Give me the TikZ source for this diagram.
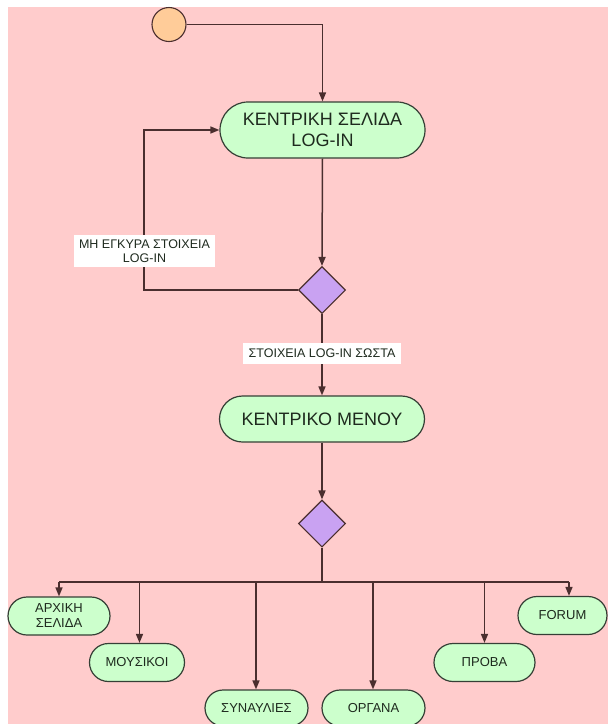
\documentclass[tikz,border=0pt]{standalone}
\usepackage{fontspec}
\setmainfont{Liberation Sans}
\usetikzlibrary{shapes.geometric,arrows.meta}

\definecolor{bgpink}{HTML}{FFCCCC}
\definecolor{actfill}{HTML}{CCFFCC}
\definecolor{decfill}{HTML}{C9A2F2}
\definecolor{startfill}{HTML}{FFCC99}
\definecolor{edge}{HTML}{4A2E2E}
\definecolor{ink}{HTML}{1E2A1E}

\tikzset{
  activity/.style={draw=ink!90, line width=1.2pt, fill=actfill, text=ink,
    inner sep=0pt, align=center},
  bigact/.style={activity, minimum width=205pt, font=\fontsize{18}{21}\selectfont},
  smallact/.style={activity, minimum width=100pt, minimum height=38pt,
    rounded corners=19pt, font=\fontsize{13}{15}\selectfont},
  decision/.style={diamond, draw=edge, line width=1.1pt, fill=decfill,
    inner sep=0pt, minimum width=47pt, minimum height=47pt},
  flow/.style={draw=edge, line width=1.5pt, -{Triangle[length=9pt,width=7pt]}},
  busline/.style={draw=edge, line width=2.2pt},
  guard/.style={fill=white, inner sep=2pt, text=ink, align=center,
    font=\fontsize{12.5}{14}\selectfont}
}

\begin{document}
\begin{tikzpicture}[x=1pt,y=-1pt]
  % page and coloured canvas
  \useasboundingbox (0,0) rectangle (608,724);
  \fill[white] (0,0) rectangle (608,724);
  \fill[bgpink] (8,7) rectangle (608,724);

  % initial state
  \node[circle, draw=edge, line width=1.1pt, fill=startfill, minimum size=34pt,
        inner sep=0pt] (start) at (169,24.5) {};

  % log-in page and first decision
  \node[bigact, minimum height=56pt, rounded corners=28pt] (login) at (322.5,130)
       {ΚΕΝΤΡΙΚΗ ΣΕΛΙΔΑ\\LOG-IN};
  \node[decision] (d1) at (322,290) {};
  \coordinate (back) at (144,290);

  % main menu and second decision
  \node[bigact, minimum height=46pt, rounded corners=23pt] (menu) at (322,419)
       {ΚΕΝΤΡΙΚΟ ΜΕΝΟΥ};
  \node[decision] (d2) at (322,523.5) {};

  % fork bar
  \coordinate (hub) at (322,582);
  \coordinate (b1) at (59,582);
  \coordinate (b2) at (139.5,582);
  \coordinate (b3) at (256,582);
  \coordinate (b4) at (373,582);
  \coordinate (b5) at (484.5,582);
  \coordinate (b6) at (569,582);

  % menu entries
  \node[smallact, minimum width=102pt] (home) at (59,616) {ΑΡΧΙΚΗ\\ΣΕΛΙΔΑ};
  \node[smallact, minimum width=95pt] (musicians) at (137,662.5) {ΜΟΥΣΙΚΟΙ};
  \node[smallact, minimum width=103pt, minimum height=36pt, rounded corners=18pt]
       (concerts) at (256.5,708) {ΣΥΝΑΥΛΙΕΣ};
  \node[smallact, minimum width=103pt, minimum height=36pt, rounded corners=18pt]
       (instruments) at (373.5,708) {ΟΡΓΑΝΑ};
  \node[smallact, minimum width=101pt] (rehearsal) at (484.5,662.5) {ΠΡΟΒΑ};
  \node[smallact, minimum width=89pt] (forum) at (562.5,615.5) {FORUM};

  % control flow
  \draw[flow] (start.east) -| (login.north);
  \draw[flow] (login.south) -- (d1.north);
  \draw[flow] (d1.west) -- (back) |- (login.west);
  \draw[flow] (d1.south) -- (menu.north);
  \draw[flow] (menu.south) -- (d2.north);
  \draw[busline, line width=2.6pt] (d2.south) -- (hub);
  \draw[busline] (b1) -- (b6);
  \draw[flow] (b1) -- (home.north);
  \draw[flow] (b2) -- (b2 |- musicians.north);
  \draw[flow] (b3) -- (b3 |- concerts.north);
  \draw[flow] (b4) -- (b4 |- instruments.north);
  \draw[flow] (b5) -- (rehearsal.north);
  \draw[flow] (b6) -- (b6 |- forum.north);

  % guard labels on the decision branches
  \node[guard, minimum width=141pt, minimum height=32pt] (badlabel) at (144.5,251)
       {ΜΗ ΕΓΚΥΡΑ ΣΤΟΙΧΕΙΑ\\LOG-IN};
  \node[guard, minimum width=158pt, minimum height=21pt] (oklabel) at (322,353.5)
       {ΣΤΟΙΧΕΙΑ LOG-IN ΣΩΣΤΑ};
\end{tikzpicture}
\end{document}
